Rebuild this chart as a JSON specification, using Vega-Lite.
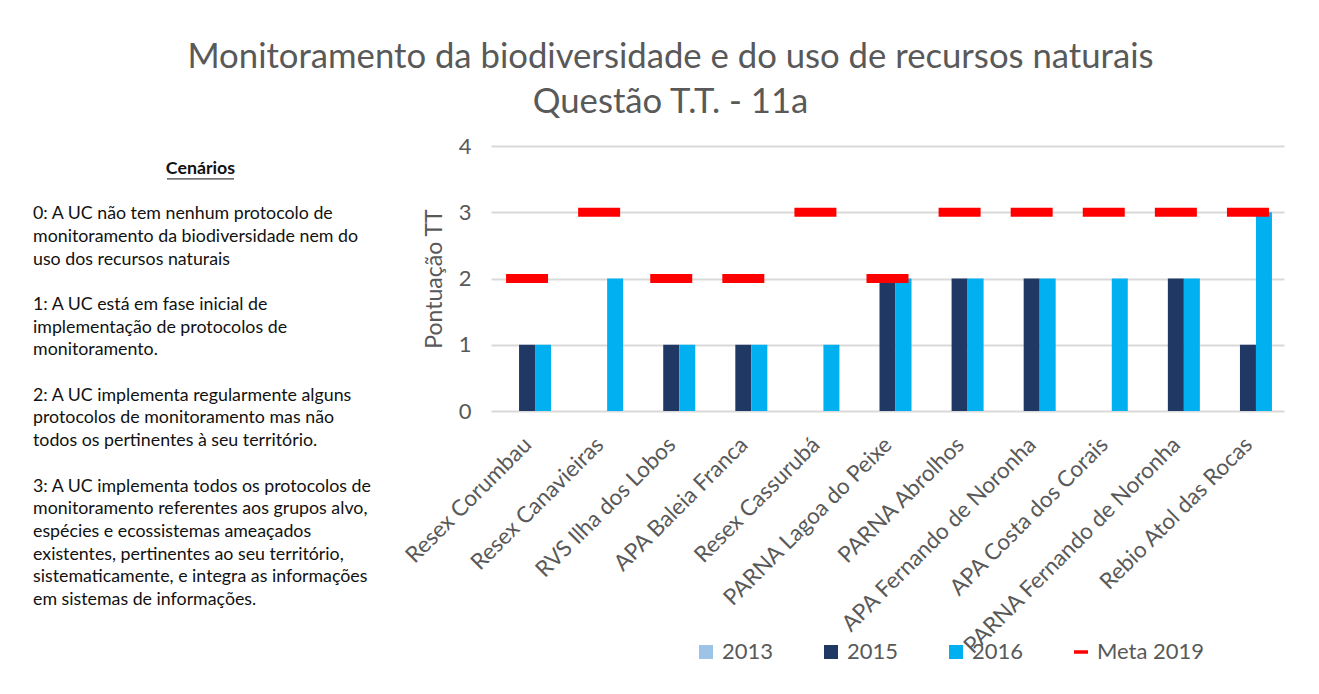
{
  "$schema": "https://vega.github.io/schema/vega-lite/v6.json",
  "background": "white",
  "padding": {"left": 33, "top": 40, "right": 25, "bottom": 5},
  "title": {
    "text": ["Monitoramento da biodiversidade e do uso de recursos naturais", "Questão T.T. - 11a"],
    "fontSize": 34.7, "font": "Lato", "fontWeight": "normal", "color": "#595959",
    "lineHeight": 45, "anchor": "middle", "offset": 14, "dx": 12
  },
  "datasets": {
    "cenarios": [
      {"linha": 0, "texto": "0: A UC não tem nenhum protocolo de"},
      {"linha": 1, "texto": "monitoramento da biodiversidade nem do"},
      {"linha": 2, "texto": "uso dos recursos naturais"},
      {"linha": 4, "texto": "1: A UC está em fase inicial de"},
      {"linha": 5, "texto": "implementação de protocolos de"},
      {"linha": 6, "texto": "monitoramento."},
      {"linha": 8, "texto": "2: A UC implementa regularmente alguns"},
      {"linha": 9, "texto": "protocolos de monitoramento mas não"},
      {"linha": 10, "texto": "todos os pertinentes à seu território."},
      {"linha": 12, "texto": "3: A UC implementa todos os protocolos de"},
      {"linha": 13, "texto": "monitoramento referentes aos grupos alvo,"},
      {"linha": 14, "texto": "espécies e ecossistemas ameaçados"},
      {"linha": 15, "texto": "existentes, pertinentes ao seu território,"},
      {"linha": 16, "texto": "sistematicamente, e integra as informações"},
      {"linha": 17, "texto": "em sistemas de informações."}
    ],
    "notas": [
      {"uc": "Resex Corumbau", "ano": "2015", "valor": 1},
      {"uc": "Resex Corumbau", "ano": "2016", "valor": 1},
      {"uc": "Resex Canavieiras", "ano": "2015", "valor": 0},
      {"uc": "Resex Canavieiras", "ano": "2016", "valor": 2},
      {"uc": "RVS Ilha dos Lobos", "ano": "2015", "valor": 1},
      {"uc": "RVS Ilha dos Lobos", "ano": "2016", "valor": 1},
      {"uc": "APA Baleia Franca", "ano": "2015", "valor": 1},
      {"uc": "APA Baleia Franca", "ano": "2016", "valor": 1},
      {"uc": "Resex Cassurubá", "ano": "2015", "valor": 0},
      {"uc": "Resex Cassurubá", "ano": "2016", "valor": 1},
      {"uc": "PARNA Lagoa do Peixe", "ano": "2015", "valor": 2},
      {"uc": "PARNA Lagoa do Peixe", "ano": "2016", "valor": 2},
      {"uc": "PARNA Abrolhos", "ano": "2015", "valor": 2},
      {"uc": "PARNA Abrolhos", "ano": "2016", "valor": 2},
      {"uc": "APA Fernando de Noronha", "ano": "2015", "valor": 2},
      {"uc": "APA Fernando de Noronha", "ano": "2016", "valor": 2},
      {"uc": "APA Costa dos Corais", "ano": "2015", "valor": 0},
      {"uc": "APA Costa dos Corais", "ano": "2016", "valor": 2},
      {"uc": "PARNA Fernando de Noronha", "ano": "2015", "valor": 2},
      {"uc": "PARNA Fernando de Noronha", "ano": "2016", "valor": 2},
      {"uc": "Rebio Atol das Rocas", "ano": "2015", "valor": 1},
      {"uc": "Rebio Atol das Rocas", "ano": "2016", "valor": 3}
    ],
    "metas": [
      {"uc": "Resex Corumbau", "meta": 2},
      {"uc": "Resex Canavieiras", "meta": 3},
      {"uc": "RVS Ilha dos Lobos", "meta": 2},
      {"uc": "APA Baleia Franca", "meta": 2},
      {"uc": "Resex Cassurubá", "meta": 3},
      {"uc": "PARNA Lagoa do Peixe", "meta": 2},
      {"uc": "PARNA Abrolhos", "meta": 3},
      {"uc": "APA Fernando de Noronha", "meta": 3},
      {"uc": "APA Costa dos Corais", "meta": 3},
      {"uc": "PARNA Fernando de Noronha", "meta": 3},
      {"uc": "Rebio Atol das Rocas", "meta": 3}
    ]
  },
  "spacing": 28,
  "hconcat": [
    {
      "width": 335,
      "height": 454,
      "layer": [
        {
          "data": {"name": "cenarios"},
          "mark": {"type": "text", "align": "left", "baseline": "middle", "fontSize": 17.8, "font": "Lato", "color": "#111111"},
          "encoding": {
            "x": {"datum": 0, "type": "quantitative", "scale": {"domain": [0, 1], "nice": false}, "axis": null},
            "y": {"field": "linha", "type": "quantitative", "scale": {"domain": [-3, 17], "reverse": true, "nice": false, "zero": false}, "axis": null},
            "text": {"field": "texto"}
          }
        },
        {
          "data": {"values": [{"titulo": "Cenários"}]},
          "mark": {"type": "text", "align": "center", "baseline": "middle", "fontSize": 17.8, "font": "Lato", "fontWeight": "bold", "color": "#111111"},
          "encoding": {
            "x": {"datum": 0.5, "type": "quantitative"},
            "y": {"datum": -2, "type": "quantitative"},
            "text": {"field": "titulo"}
          }
        },
        {
          "data": {"values": [{"a": 1}]},
          "mark": {"type": "rule", "color": "#111111", "strokeWidth": 1},
          "encoding": {
            "x": {"datum": 0.4, "type": "quantitative"},
            "x2": {"datum": 0.6},
            "y": {"datum": -1.55, "type": "quantitative"}
          }
        }
      ]
    },
    {
      "width": 793,
      "height": 265,
      "layer": [
        {
          "data": {"name": "notas"},
          "mark": {"type": "bar"},
          "encoding": {
            "x": {
              "field": "uc", "type": "nominal",
              "sort": ["Resex Corumbau", "Resex Canavieiras", "RVS Ilha dos Lobos", "APA Baleia Franca", "Resex Cassurubá", "PARNA Lagoa do Peixe", "PARNA Abrolhos", "APA Fernando de Noronha", "APA Costa dos Corais", "PARNA Fernando de Noronha", "Rebio Atol das Rocas"],
              "scale": {"paddingInner": 0.334, "paddingOuter": 0.167},
              "title": null,
              "axis": {"labelAngle": -45, "labelFontSize": 22.5, "labelColor": "#595959", "ticks": false, "domain": false, "labelPadding": 22, "labelOffset": -7, "labelFont": "Lato", "labelLimit": 0}
            },
            "xOffset": {"field": "ano", "type": "nominal", "scale": {"domain": ["2013", "2015", "2016"], "paddingInner": 0, "paddingOuter": 0}},
            "y": {
              "field": "valor", "type": "quantitative",
              "scale": {"domain": [0, 4]},
              "title": "Pontuação TT",
              "axis": {"values": [0, 1, 2, 3, 4], "format": "d", "labelFontSize": 22, "labelColor": "#595959", "titleFontSize": 23, "titleColor": "#595959", "titleFontWeight": "normal", "ticks": false, "domain": false, "gridColor": "#d9d9d9", "gridWidth": 2, "labelPadding": 20, "titlePadding": 12, "labelFont": "Lato", "titleFont": "Lato"}
            },
            "color": {
              "field": "ano", "type": "nominal",
              "scale": {"domain": ["2013", "2015", "2016", "Meta 2019"], "range": ["#9DC3E6", "#203864", "#00B0F0", "#FF0000"]},
              "legend": {
                "orient": "none", "legendX": 662, "legendY": 495, "direction": "horizontal", "title": null,
                "labelFontSize": 22, "labelColor": "#595959", "labelFont": "Lato", "symbolType": "square", "symbolSize": 196,
                "symbolStrokeWidth": 0, "columnPadding": 46, "labelOffset": 5,
                "encode": {"symbols": {"update": {"shape": {"signal": "datum.value === 'Meta 2019' ? 'M-1,-0.25H1V0.25H-1Z' : 'square'"}}}}
              }
            }
          }
        },
        {
          "data": {"name": "metas"},
          "mark": {"type": "tick", "size": 42, "thickness": 9, "orient": "horizontal", "opacity": 1},
          "encoding": {
            "x": {"field": "uc", "type": "nominal", "sort": ["Resex Corumbau", "Resex Canavieiras", "RVS Ilha dos Lobos", "APA Baleia Franca", "Resex Cassurubá", "PARNA Lagoa do Peixe", "PARNA Abrolhos", "APA Fernando de Noronha", "APA Costa dos Corais", "PARNA Fernando de Noronha", "Rebio Atol das Rocas"]},
            "y": {"field": "meta", "type": "quantitative"},
            "color": {"datum": "Meta 2019"}
          }
        }
      ]
    }
  ],
  "config": {"view": {"stroke": null}, "font": "Lato"}
}
